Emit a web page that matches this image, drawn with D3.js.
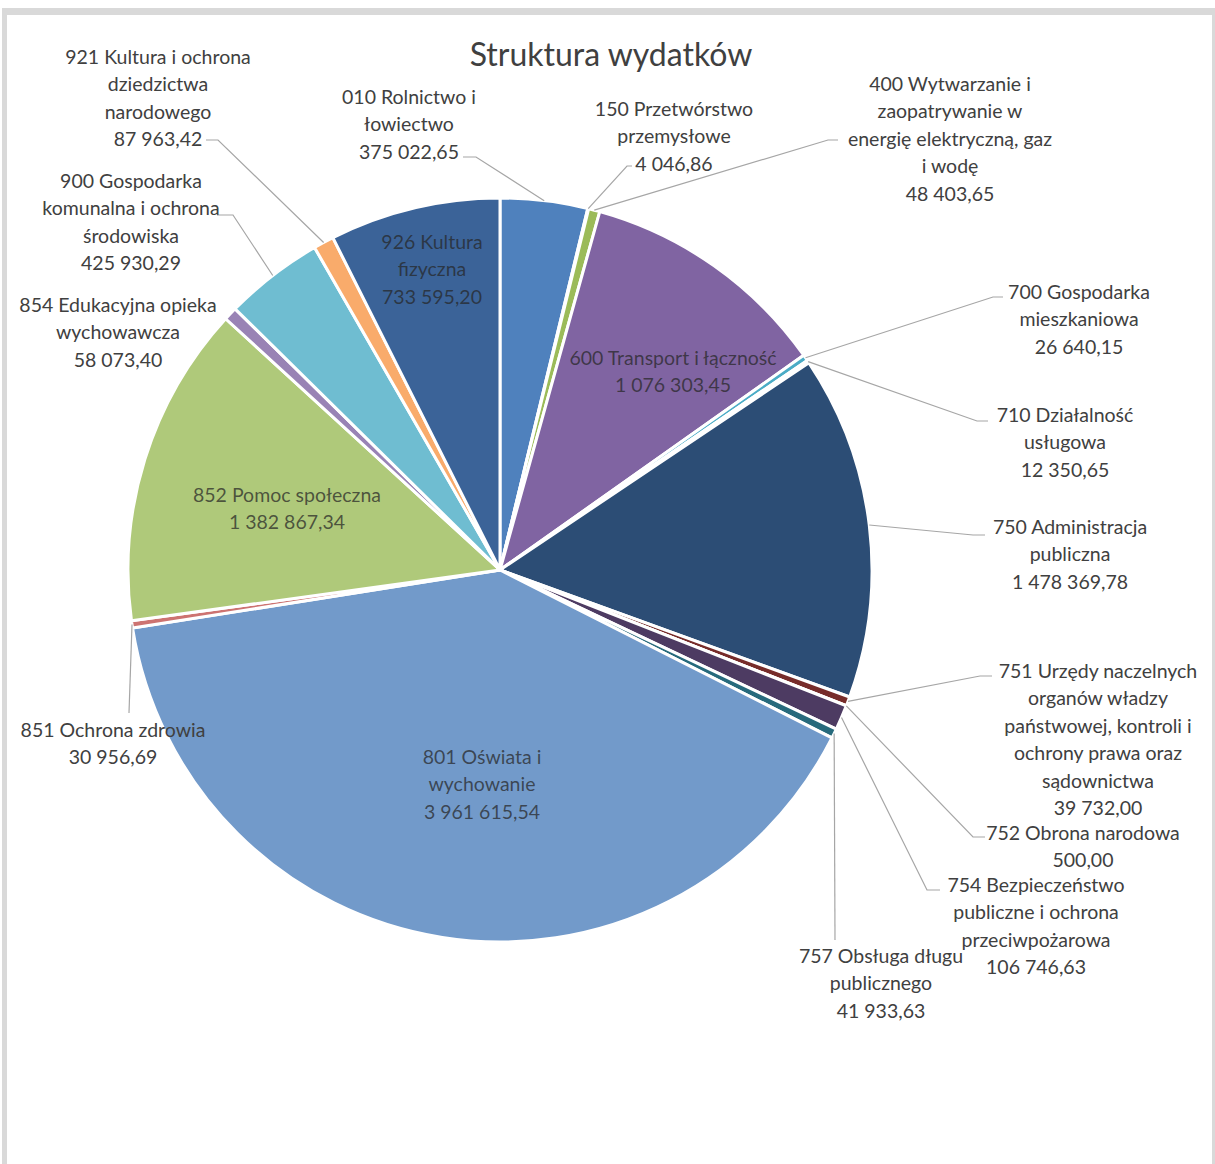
<!DOCTYPE html>
<html><head><meta charset="utf-8">
<script src="https://cdn.jsdelivr.net/npm/d3@7"></script>
<style>html,body{margin:0;padding:0;background:#fff;}svg{display:block;}</style>
</head><body>
<svg id="chart" width="1215" height="1164"></svg>
<script>
// ---------- DATA ----------
const codes = ["010","150","400","600","700","710","750","751","752","754","757","801","851","852","854","900","921","926"];
const categoryLines = [
  ["010 Rolnictwo i","łowiectwo"],
  ["150 Przetwórstwo","przemysłowe"],
  ["400 Wytwarzanie i","zaopatrywanie w","energię elektryczną, gaz","i wodę"],
  ["600 Transport i łączność"],
  ["700 Gospodarka","mieszkaniowa"],
  ["710 Działalność","usługowa"],
  ["750 Administracja","publiczna"],
  ["751 Urzędy naczelnych","organów władzy","państwowej, kontroli i","ochrony prawa oraz","sądownictwa"],
  ["752 Obrona narodowa"],
  ["754 Bezpieczeństwo","publiczne i ochrona","przeciwpożarowa"],
  ["757 Obsługa długu","publicznego"],
  ["801 Oświata i","wychowanie"],
  ["851 Ochrona zdrowia"],
  ["852 Pomoc społeczna"],
  ["854 Edukacyjna opieka","wychowawcza"],
  ["900 Gospodarka","komunalna i ochrona","środowiska"],
  ["921 Kultura i ochrona","dziedzictwa","narodowego"],
  ["926 Kultura","fizyczna"]
];
const values = [375022.65,4046.86,48403.65,1076303.45,26640.15,12350.65,1478369.78,39732.00,500.00,106746.63,41933.63,3961615.54,30956.69,1382867.34,58073.40,425930.29,87963.42,733595.20];
const chartTitle = "Struktura wydatków";

// ---------- STYLE / LAYOUT ----------
const colors = ["#4F81BD","#C0504D","#9BBB59","#8064A2","#4BACC6","#F79646","#2C4D75","#772C2A","#5F7530","#4D3B62","#276A7C","#729ACA","#CD7371","#AFC97A","#9983B5","#6FBDD1","#F9AB6B","#3B6398"];
// label placement: centre x, first line centre y, inside flag
const labelPos = [
  {x:409,y:96},{x:674,y:108},{x:950,y:83},{x:673,y:357,inside:true},
  {x:1079,y:291},{x:1065,y:414},{x:1070,y:526},{x:1098,y:670},
  {x:1083,y:832},{x:1036,y:884},{x:881,y:955},{x:482,y:756,inside:true},
  {x:113,y:729},{x:287,y:494,inside:true},{x:118,y:304},{x:131,y:180},
  {x:158,y:56},{x:432,y:241,inside:true}
];
// leader: bend point and stub end (null = no leader)
const leaders = [
  [[476,157],[463,157]], [[627,166],[632,166]], [[828,140],[838,140]], null,
  [[993,297],[1003,297]], [[977,421],[988,421]], [[973,535],[985,535]], [[980,676],[992,676]],
  [[973,837],[985,837]], [[927,890],[940,890]], [[835,940],null], null,
  [[129,713],null], null, null, [[233,215],[217,215]],
  [[218,140],[206,140]], null
];

const W=1215,H=1164, cx=500, cy=570, R=372;
const svg=d3.select("#chart");
const font="Lato, 'Open Sans', sans-serif";

// frame
svg.append("rect").attr("x",2).attr("y",8).attr("width",W-2).attr("height",H-8).attr("fill","#d9d9d9");
svg.append("rect").attr("x",7).attr("y",15).attr("width",W-10).attr("height",H-15).attr("fill","#fff");

svg.append("text").attr("x",611).attr("y",53).attr("text-anchor","middle").attr("dominant-baseline","central")
  .style("font-family",font).style("font-size","32px").attr("fill","#404040").text(chartTitle);

const pie=d3.pie().sort(null).value(d=>d)(values);
const arc=d3.arc().innerRadius(0).outerRadius(R);
const g=svg.append("g").attr("transform",`translate(${cx},${cy})`);
g.selectAll("path").data(pie).join("path")
  .attr("d",arc).attr("fill",(d,i)=>colors[i]).attr("stroke","#fff").attr("stroke-width",3).attr("stroke-linejoin","round");

const fmt=d3.formatLocale({decimal:",",thousands:" ",grouping:[3],currency:["",""]}).format(",.2f");

// leader lines
pie.forEach((d,i)=>{
  const L=leaders[i]; if(!L) return;
  const a=(d.startAngle+d.endAngle)/2;
  const p0=[cx+R*Math.sin(a), cy-R*Math.cos(a)];
  const pts=[p0,L[0]]; if(L[1]) pts.push(L[1]);
  svg.append("path").attr("d",d3.line()(pts)).attr("fill","none").attr("stroke","#a6a6a6").attr("stroke-width",1.2);
});

// labels
pie.forEach((d,i)=>{
  const lp=labelPos[i];
  const lines=categoryLines[i].concat([fmt(values[i])]);
  const t=svg.append("text").attr("text-anchor","middle")
    .style("font-family",font).style("font-size","19.5px")
    .attr("fill", lp.inside? "#262626":"#404040").attr("fill-opacity", lp.inside?0.72:1);
  lines.forEach((s,k)=>{
    t.append("tspan").attr("x",lp.x).attr("y",lp.y+k*27.5).attr("dominant-baseline","central").text(s);
  });
});
</script>
</body></html>
